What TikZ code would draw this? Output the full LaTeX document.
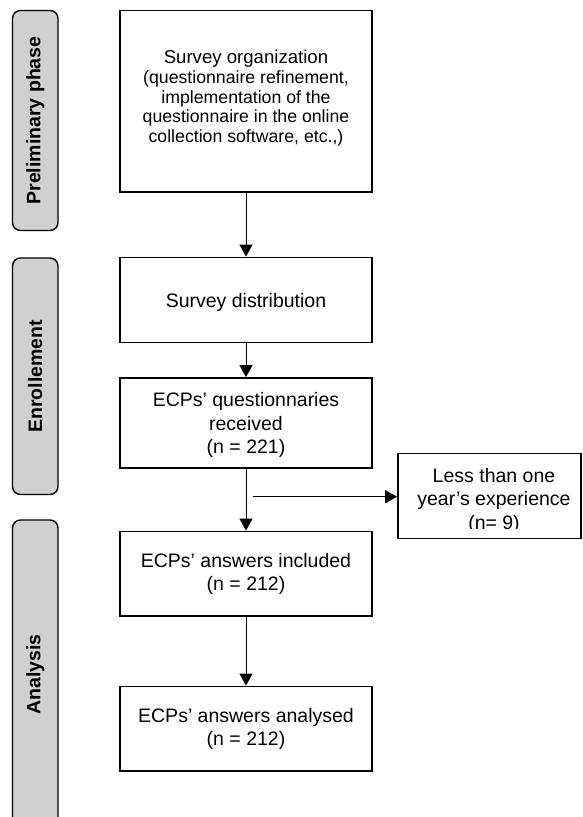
\documentclass[tikz,border=0pt]{standalone}
\usepackage{fontspec}
\setmainfont{Liberation Sans}
\usetikzlibrary{arrows.meta}
\definecolor{phasegray}{RGB}{208,208,208}
\begin{document}
\begin{tikzpicture}[x=1pt,y=-1pt,
  box/.style={draw=black, line width=1.8pt, minimum width=252pt, inner sep=0pt},
  phase/.style={draw=black, line width=1.4pt, fill=phasegray, rounded corners=8pt,
    rotate=90, minimum height=45.5pt, inner sep=0pt,
    font=\bfseries\fontsize{19.5}{23}\selectfont},
  txt/.style={align=center, font=\fontsize{19.5}{23.5}\selectfont, inner sep=0pt},
  smalltxt/.style={align=center, font=\fontsize{17.7}{19.4}\selectfont, inner sep=0pt},
  arr/.style={line width=1pt, -{Triangle[width=13pt,length=12pt]}},
]
\useasboundingbox (0,0) rectangle (582,817);

% phase bars
\node[phase, minimum width=220pt] (pre) at (35.25,120.5) {Preliminary phase};
\node[phase, minimum width=236.5pt] (enr) at (35.25,376.25) {Enrollement};
\node[phase, minimum width=309pt] (ana) at (35.25,674.5) {Analysis};

% boxes
\node[box, minimum height=181.5pt] (org) at (246,101.25) {};
\node[box, minimum height=85pt] (dist) at (246,300) {};
\node[box, minimum height=90pt] (recv) at (246,423) {};
\node[box, minimum height=84.5pt] (incl) at (246,573.75) {};
\node[box, minimum height=84.5pt] (anal) at (246,728.75) {};
\node[box, minimum width=183pt, minimum height=85pt] (less) at (489.5,496) {};

% texts
\node[smalltxt] (orgt) at (246,98) {{\fontsize{18.6}{19.5}\selectfont Survey organization}\\[0.6pt]
(questionnaire refinement,\\implementation of the\\questionnaire in the online\\collection software, etc.,)};
\node[txt] (distt) at (246,302) {Survey distribution};
\node[txt] (recvt) at (246,425.3) {ECPs’ questionnaries\\received\\(n = 221)};
\node[txt] (inclt) at (246,574) {ECPs’ answers included\\(n = 212)};
\node[txt] (analt) at (246,728.8) {ECPs’ answers analysed\\(n = 212)};
\begin{scope}
\clip (398,453.5) rectangle (581,528.8);
\node[txt] (lesst) at (494,500.8) {Less than one\\year’s experience\\(n= 9)};
\end{scope}

% connectors
\draw[arr] (org.south) -- (dist.north);
\draw[arr] (dist.south) -- (recv.north);
\draw[arr] (recv.south) -- (incl.north);
\draw[arr] (incl.south) -- (anal.north);
\coordinate (split) at (253,496.7);
\draw[arr] (split) -- (split -| less.west);
\end{tikzpicture}
\end{document}
